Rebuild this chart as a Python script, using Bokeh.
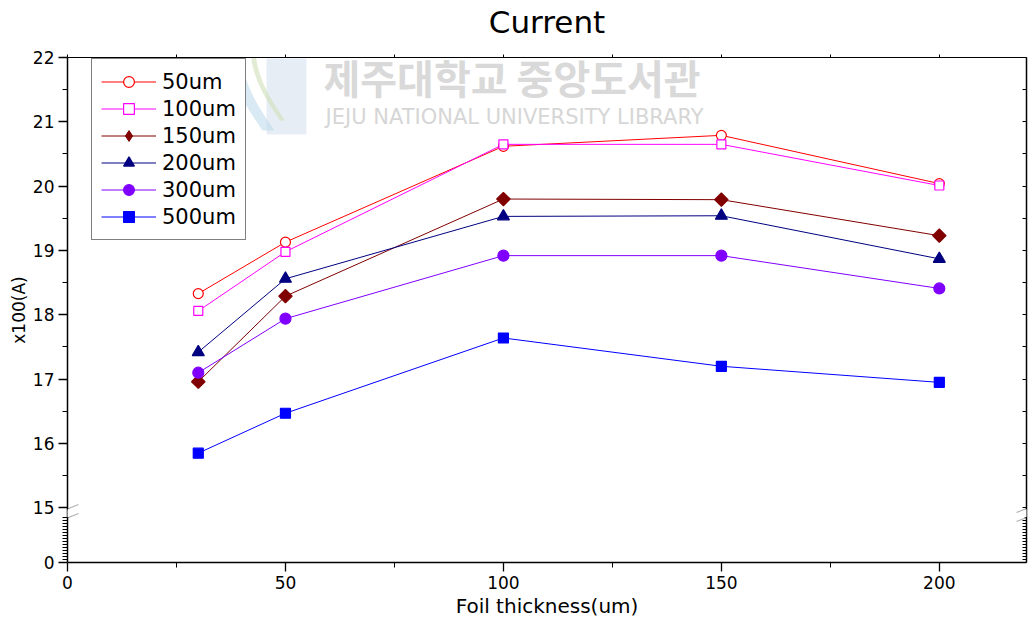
import math
from bokeh.plotting import figure
from bokeh.models import (LinearAxis, FixedTicker, CustomJSTickFormatter, Legend,
                          LegendItem, PolyAnnotation, Label, Range1d)
from bokeh.embed import file_html
from bokeh.resources import INLINE

# Foil thickness (um) and measured current (x100 A) per series
thickness = [30, 50, 100, 150, 200]
cur_50um = [18.33, 19.13, 20.62, 20.79, 20.04]
cur_100um = [18.06, 18.98, 20.65, 20.65, 20.01]
cur_150um = [16.96, 18.29, 19.80, 19.79, 19.23]
cur_200um = [17.42, 18.56, 19.53, 19.54, 18.87]
cur_300um = [17.10, 17.94, 18.92, 18.92, 18.41]
cur_500um = [15.85, 16.47, 17.64, 17.20, 16.95]
series_labels = ["50um", "100um", "150um", "200um", "300um", "500um"]

x_major_ticks = [0, 50, 100, 150, 200]
x_minor_ticks = [25, 75, 125, 175]
y_major_ticks = [15, 16, 17, 18, 19, 20, 21, 22]
y_minor_ticks = [15.5, 16.5, 17.5, 18.5, 19.5, 20.5, 21.5]

FONT = "DejaVu Sans"

# Broken y axis: the 0..15 stretch is squeezed into [LOW0, LOWTOP]
LOW0, LOWTOP = 14.15, 14.85
X0, X1, Y1 = 0, 220, 22
W, H = 1035, 621
BL, BR, BT, BB = 67, 9, 57, 59

p = figure(width=W, height=H, output_backend="svg", toolbar_location=None, title=None,
           x_range=Range1d(X0, X1), y_range=Range1d(LOW0, Y1),
           x_axis_location=None, y_axis_location=None,
           min_border_left=BL, min_border_right=BR,
           min_border_top=BT, min_border_bottom=BB)
p.outline_line_color = None
p.xgrid.grid_line_color = None
p.ygrid.grid_line_color = None
p.background_fill_color = "white"
p.border_fill_color = "white"

# frame pixel helpers for decorations placed around the frame
fw, fh = W - BL - BR, H - BT - BB
def dx(px):
    return X0 + (px - BL) * (X1 - X0) / fw
def dy(py):
    return Y1 - (py - BT) * (Y1 - LOW0) / fh

low_minor = [LOW0 + i * (LOWTOP - LOW0) / 15 for i in range(1, 16)]
y_ticker = FixedTicker(ticks=[LOW0] + y_major_ticks, minor_ticks=y_minor_ticks + low_minor)
y_fmt = CustomJSTickFormatter(code="return tick < 15 ? '0' : tick.toFixed(0);")
x_ticker = FixedTicker(ticks=x_major_ticks, minor_ticks=x_minor_ticks)

left = LinearAxis(ticker=y_ticker, formatter=y_fmt, axis_label="x100(A)",
                  axis_line_width=1.5, major_tick_out=9, major_tick_in=0,
                  minor_tick_out=5, minor_tick_in=0, major_tick_line_width=1.3,
                  major_label_text_font=FONT, major_label_text_font_size="17px",
                  major_label_text_color="black",
                  major_label_standoff=4, axis_label_standoff=1,
                  axis_label_text_font=FONT, axis_label_text_font_size="17px",
                  axis_label_text_color="black", axis_label_text_font_style="normal")
right = LinearAxis(ticker=y_ticker, axis_line_width=1.5, major_tick_out=0, major_tick_in=4,
                   minor_tick_out=0, minor_tick_in=4, major_label_text_color=None,
                   major_label_text_font_size="1px", major_label_standoff=0)
bottom = LinearAxis(ticker=x_ticker, axis_label="Foil thickness(um)",
                    axis_line_width=1.5, major_tick_out=9, major_tick_in=0,
                    minor_tick_out=5, minor_tick_in=0, major_tick_line_width=1.3,
                    major_label_text_font=FONT, major_label_text_font_size="17px",
                    major_label_text_color="black",
                    major_label_standoff=4, axis_label_standoff=2,
                    axis_label_text_font=FONT, axis_label_text_font_size="20px",
                    axis_label_text_color="black", axis_label_text_font_style="normal")
# top frame edge; its label carries the chart title
top = LinearAxis(ticker=x_ticker, axis_line_width=1.2, major_tick_out=3, major_tick_in=0,
                 minor_tick_out=3, minor_tick_in=0, major_label_text_color=None,
                 major_label_text_font_size="1px", major_label_standoff=0,
                 axis_label="Current", axis_label_standoff=15,
                 axis_label_text_font=FONT, axis_label_text_font_size="31px",
                 axis_label_text_color="black", axis_label_text_font_style="normal")
p.add_layout(left, "left")
p.add_layout(right, "right")
p.add_layout(bottom, "below")
p.add_layout(top, "above")

# faint library emblem and watermark behind the data
def band(cx, cy, amp, width, y0, y1, color, alpha):
    n = 24
    ts = [i / n for i in range(n + 1)]
    pys = [y0 + (y1 - y0) * t for t in ts]
    pxs = [cx + amp * math.sin(math.pi * t) + 30 * t for t in ts]
    xs = [dx(x - width / 2) for x in pxs] + [dx(x + width / 2) for x in reversed(pxs)]
    ys = [dy(y) for y in pys] + [dy(y) for y in reversed(pys)]
    p.add_layout(PolyAnnotation(xs=xs, ys=ys, fill_color=color, fill_alpha=alpha,
                                line_color=None, level="underlay"))

p.add_layout(PolyAnnotation(xs=[dx(266), dx(306), dx(306), dx(266)],
                            ys=[dy(58), dy(58), dy(134), dy(134)],
                            fill_color="#c9d6e6", fill_alpha=0.45, line_color=None,
                            level="underlay"))
band(238, 0, -14, 12, 22, 130, "#bcd8ec", 0.55)
band(252, 0, -10, 5, 28, 120, "#cfe0b8", 0.6)

p.add_layout(Label(x=dx(323), y=dy(76), text="제주대학교 중앙도서관",
                   text_font="Noto Sans CJK KR", text_font_size="40px",
                   text_font_style="bold", text_color="#d9d9d9",
                   text_baseline="middle", level="underlay"))
p.add_layout(Label(x=dx(325), y=dy(116), text="JEJU NATIONAL UNIVERSITY  LIBRARY",
                   text_font=FONT, text_font_size="21px",
                   text_color="#d6d6d6", text_baseline="middle", level="underlay"))

styles = [
    (cur_50um, "#FF0000", "circle", 10, "white", 0),
    (cur_100um, "#FF00FF", "square", 9, "white", 0),
    (cur_150um, "#800000", "square", 9.5, "#800000", math.pi / 4),
    (cur_200um, "#000080", "triangle", 12, "#000080", 0),
    (cur_300um, "#8000FF", "circle", 11, "#8000FF", 0),
    (cur_500um, "#0000FF", "square", 10, "#0000FF", 0),
]

items = []
for label, (vals, color, marker, size, fill, ang) in zip(series_labels, styles):
    ln = p.line(thickness, vals, line_color=color, line_width=1)
    if ang:
        # legend swatch: an upright diamond (legend swatches are never rotated);
        # it sits hidden underneath the rotated squares drawn next
        swatch = p.scatter(thickness, vals, marker="diamond", size=size,
                           line_color=color, fill_color=fill, line_width=1)
        p.scatter(thickness, vals, marker=marker, size=size, angle=ang,
                  line_color=color, fill_color=fill, line_width=1.2)
        items.append(LegendItem(label=label, renderers=[ln, swatch]))
    else:
        sc = p.scatter(thickness, vals, marker=marker, size=size,
                       line_color=color, fill_color=fill, line_width=1.2)
        items.append(LegendItem(label=label, renderers=[ln, sc]))

legend = Legend(items=items, location=(24, 322), border_line_color="black",
                border_line_width=1.2, padding=9, spacing=0, margin=0,
                glyph_width=55, glyph_height=27, label_height=27, label_standoff=6,
                label_text_font=FONT, label_text_font_size="21px",
                label_text_color="black",
                background_fill_color="white", background_fill_alpha=1)
p.add_layout(legend)

# axis-break marks on both vertical edges
def break_marks(x_left, x_right):
    gap_x0, gap_x1 = x_left + 4, x_left + 14
    def up(px):
        return 512 - 8 * (px - x_left) / 20
    def lo(px):
        return up(px) + 9
    p.add_layout(PolyAnnotation(
        xs=[dx(gap_x0), dx(gap_x1), dx(gap_x1), dx(gap_x0)],
        ys=[dy(up(gap_x0) + 0.6), dy(up(gap_x1) + 0.6), dy(lo(gap_x1) - 0.6), dy(lo(gap_x0) - 0.6)],
        fill_color="white", fill_alpha=1, line_color=None, level="overlay"))
    for f in (up, lo):
        p.add_layout(PolyAnnotation(
            xs=[dx(x_left), dx(x_right)], ys=[dy(f(x_left)), dy(f(x_right))],
            fill_alpha=0, line_color="black", line_width=1.2, level="overlay"))

break_marks(58, 78)
break_marks(1016, 1036)

open("out.html", "w").write(file_html(p, INLINE))
